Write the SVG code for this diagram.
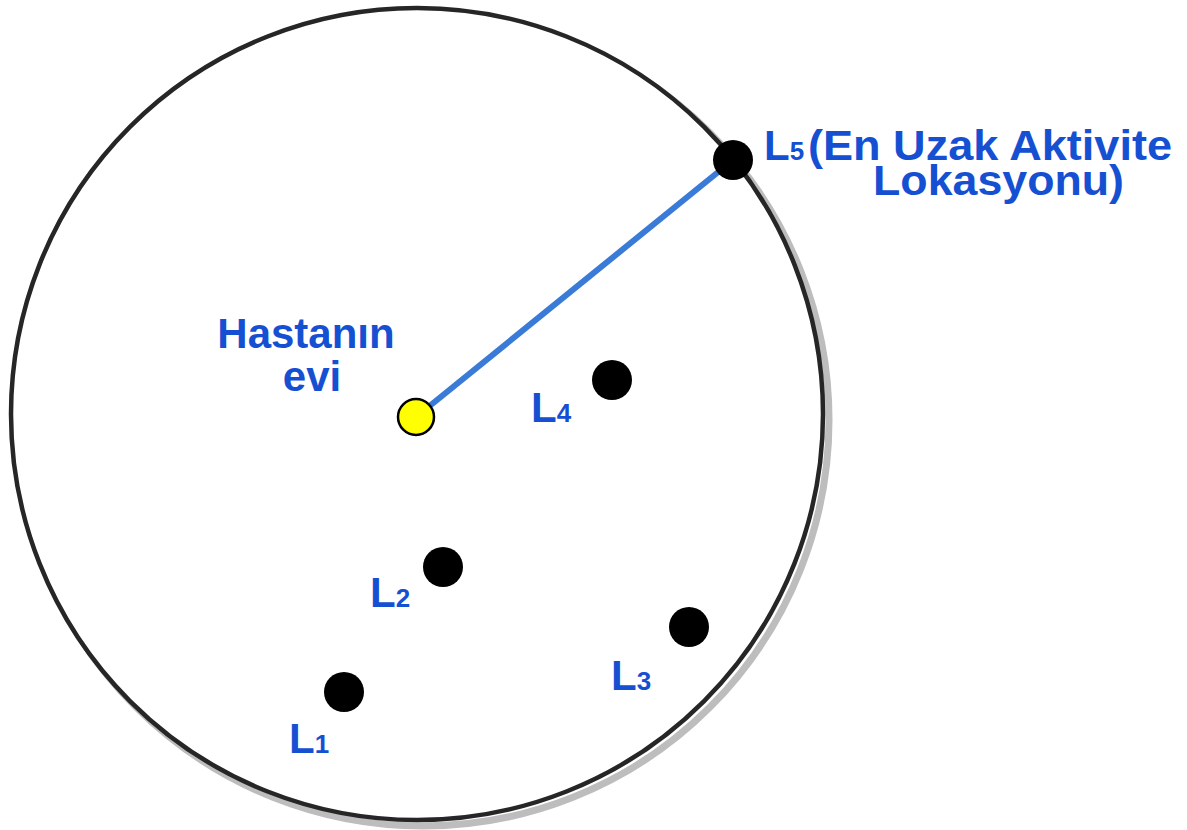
<svg xmlns="http://www.w3.org/2000/svg" width="1187" height="830" viewBox="0 0 1187 830">
<style>
.lbl{font-family:"Liberation Sans",Arial,sans-serif;font-weight:bold;fill:#1650d2;}
.big{font-size:42px;}
.sub{font-size:26px;}
.dot{fill:#000;}
</style>
<rect width="1187" height="830" fill="#fff"/>
<g id="boundary">
<circle cx="423" cy="420" r="406" fill="none" stroke="#bdbdbd" stroke-width="7"/>
<circle cx="417" cy="414" r="406" fill="#fff" stroke="#262626" stroke-width="4.5"/>
</g>
<g id="connectors">
<line x1="416" y1="417" x2="733" y2="160" stroke="#3a7bd8" stroke-width="6"/>
</g>
<g id="home">
<circle cx="416" cy="417" r="18" fill="#ffff00" stroke="#000" stroke-width="2.5"/>
<text class="lbl big" text-anchor="middle"><tspan x="306" y="348">Hastanın</tspan><tspan x="312" y="391">evi</tspan></text>
</g>
<g id="L1">
<circle class="dot" cx="344" cy="692" r="20"/>
<text class="lbl" x="289" y="753"><tspan class="big">L</tspan><tspan class="sub">1</tspan></text>
</g>
<g id="L2">
<circle class="dot" cx="443" cy="567" r="20"/>
<text class="lbl" x="370" y="607"><tspan class="big">L</tspan><tspan class="sub">2</tspan></text>
</g>
<g id="L3">
<circle class="dot" cx="689" cy="627" r="20"/>
<text class="lbl" x="611" y="690"><tspan class="big">L</tspan><tspan class="sub">3</tspan></text>
</g>
<g id="L4">
<circle class="dot" cx="612" cy="380" r="20"/>
<text class="lbl" x="531" y="422"><tspan class="big">L</tspan><tspan class="sub">4</tspan></text>
</g>
<g id="L5">
<circle class="dot" cx="733" cy="160" r="20"/>
<text class="lbl"><tspan class="big" x="764" y="160">L</tspan><tspan class="sub">5</tspan><tspan class="big" x="808" y="160" textLength="364" lengthAdjust="spacingAndGlyphs">(En Uzak Aktivite</tspan><tspan class="big" x="873" y="195" textLength="251" lengthAdjust="spacingAndGlyphs">Lokasyonu)</tspan></text>
</g>
</svg>
